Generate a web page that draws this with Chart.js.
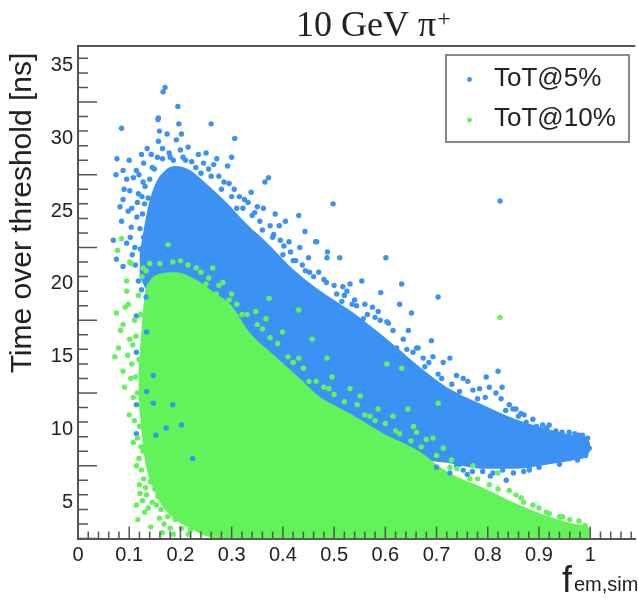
<!DOCTYPE html>
<html>
<head>
<meta charset="utf-8">
<script src="https://cdn.jsdelivr.net/npm/chart.js@4.4.1/dist/chart.umd.min.js"></script>
<style>
  body { margin: 0; background: #fff; }
  #wrap { width: 638px; height: 598px; }
</style>
</head>
<body>
<div id="wrap"><canvas id="tot-chart"></canvas></div>
<script>
// Series
const seriesNames = ['ToT@5%', 'ToT@10%'];
const seriesColors = ['#3b92f4', '#62f25a'];

// Dense core of each cloud (top / bottom edge)
const blueBandX = [0.12, 0.135, 0.15, 0.17, 0.19, 0.22, 0.25, 0.29, 0.33, 0.37, 0.42, 0.47, 0.53, 0.60, 0.66, 0.72, 0.79, 0.855, 0.92, 0.97, 0.995, 1.0];
const blueBandTop = [22.0, 25.0, 26.8, 27.8, 28.1, 27.8, 26.9, 25.6, 24.1, 22.8, 21.0, 19.6, 18.2, 16.3, 14.5, 12.9, 11.7, 10.7, 10.0, 9.6, 9.4, 9.0];
const blueBandBottom = [20.5, 19.5, 19.0, 19.0, 19.0, 18.5, 18.0, 17.0, 15.5, 14.0, 12.5, 11.3, 10.0, 8.8, 8.0, 7.7, 7.3, 7.3, 7.6, 7.9, 8.2, 8.6];

const greenBandX = [0.118, 0.13, 0.14, 0.16, 0.19, 0.23, 0.27, 0.30, 0.334, 0.383, 0.43, 0.47, 0.53, 0.597, 0.661, 0.725, 0.79, 0.855, 0.92, 0.97, 0.995, 1.0];
const greenBandTop = [14.0, 19.2, 20.2, 20.7, 20.8, 20.3, 19.3, 18.5, 16.7, 15.1, 13.6, 12.3, 11.1, 9.7, 8.6, 7.0, 6.0, 4.9, 4.0, 3.5, 3.3, 3.1];
const greenBandBottom = [12.0, 8.0, 6.6, 5.0, 3.8, 3.0, 2.5, 2.5, 2.5, 2.5, 2.5, 2.5, 2.5, 2.5, 2.5, 2.5, 2.5, 2.5, 2.5, 2.5, 2.5, 2.5];

// Scattered events outside the dense core [f_em, ToT]
const bluePoints = [
  [0.085, 30.7], [0.157, 31.4], [0.197, 31.0], [0.26, 31.0], [0.159, 30.5], [0.174, 30.3], [0.202, 30.3],
  [0.306, 30.0], [0.076, 28.6], [0.1, 28.5], [0.074, 27.5], [0.088, 27.8], [0.124, 28.9], [0.135, 29.3],
  [0.157, 29.8], [0.192, 29.9], [0.25, 29.0], [0.271, 28.6], [0.30, 28.7], [0.292, 28.1], [0.372, 27.3],
  [0.365, 27.0], [0.338, 26.3], [0.325, 25.8], [0.35, 25.3], [0.385, 24.8], [0.431, 24.7], [0.405, 24.3],
  [0.393, 24.0], [0.443, 23.6], [0.412, 22.9], [0.433, 22.5], [0.387, 21.9], [0.464, 22.9], [0.444, 20.9],
  [0.069, 23.0], [0.075, 21.7], [0.088, 21.2], [0.085, 24.3], [0.088, 25.8], [0.098, 25.0], [0.104, 23.9],
  [0.111, 22.5], [0.101, 26.4], [0.095, 27.2], [0.114, 27.8], [0.127, 27.0], [0.17, 33.5], [0.166, 33.2],
  [0.195, 32.2], [0.156, 31.3],
  [0.09, 26.5], [0.105, 25.2], [0.115, 24.6], [0.118, 26.2], [0.108, 27.3], [0.095, 22.8], [0.082, 25.3],
  [0.112, 21.3], [0.122, 22.4], [0.13, 25.5], [0.125, 26.0], [0.14, 27.2], [0.145, 28.0], [0.165, 28.6],
  [0.18, 28.7], [0.21, 28.5], [0.23, 28.0], [0.24, 27.6], [0.26, 27.4], [0.28, 26.5], [0.3, 26.0],
  [0.31, 25.2], [0.34, 24.7], [0.36, 23.7], [0.38, 23.2], [0.4, 22.0], [0.42, 21.6], [0.45, 21.8],
  [0.46, 20.5], [0.48, 20.3], [0.5, 19.9], [0.52, 19.2], [0.54, 18.9], [0.56, 18.6], [0.58, 17.7],
  [0.118, 20.2], [0.124, 19.6], [0.128, 23.2], [0.132, 21.0], [0.121, 23.8], [0.116, 25.6], [0.126, 24.8],
  [0.131, 26.7], [0.137, 25.9], [0.133, 19.1], [0.106, 22.0], [0.102, 23.2], [0.119, 27.5], [0.128, 28.3],
  [0.143, 28.9], [0.149, 27.9], [0.155, 28.7],
  [0.165, 29.3], [0.178, 29.0], [0.186, 28.5], [0.2, 29.2], [0.205, 28.7], [0.215, 29.4], [0.222, 28.4],
  [0.235, 28.9], [0.245, 28.3], [0.255, 27.9], [0.265, 28.2], [0.275, 27.4], [0.285, 27.0], [0.295, 26.9],
  [0.305, 26.5], [0.315, 26.0], [0.322, 25.2], [0.332, 25.6], [0.345, 24.9], [0.355, 24.3], [0.362, 25.2],
  [0.375, 24.0], [0.382, 23.4], [0.395, 23.0], [0.402, 22.6], [0.415, 22.2], [0.425, 21.6], [0.438, 21.3],
  [0.452, 20.8], [0.47, 20.8], [0.485, 20.1], [0.505, 19.3], [0.515, 18.8], [0.525, 19.5], [0.535, 18.6],
  [0.565, 17.9], [0.575, 18.4], [0.615, 16.8], [0.635, 16.2], [0.642, 15.5], [0.685, 14.6], [0.71, 13.5],
  [0.73, 13.1], [0.745, 12.6], [0.78, 12.1], [0.795, 12.2], [0.835, 11.3], [0.86, 10.9], [0.875, 10.5],
  [0.895, 10.2], [0.915, 10.1], [0.945, 9.8], [0.97, 9.7],
  [0.498, 25.5], [0.824, 25.7], [0.486, 21.8], [0.511, 21.8], [0.601, 21.8], [0.466, 22.9], [0.487, 22.2],
  [0.554, 20.2], [0.531, 20.0], [0.517, 19.8], [0.632, 20.0], [0.591, 19.4], [0.703, 19.1], [0.628, 18.6],
  [0.586, 18.1], [0.651, 18.0], [0.603, 17.4], [0.645, 16.8], [0.69, 16.1], [0.726, 14.9], [0.713, 14.6],
  [0.661, 15.6], [0.674, 14.9], [0.82, 14.0], [0.797, 13.6], [0.828, 12.9], [0.784, 12.8], [0.752, 13.5],
  [0.855, 11.4], [0.871, 11.0], [0.842, 11.7], [0.92, 10.3], [0.978, 9.6], [0.836, 6.5], [0.881, 7.2],
  [0.726, 7.0], [0.70, 7.4],
  [0.544, 18.5], [0.557, 17.6], [0.590, 17.5], [0.606, 17.3], [0.596, 16.0], [0.622, 15.6], [0.654, 15.3],
  [0.664, 15.6], [0.693, 15.0], [0.677, 14.3], [0.703, 13.8], [0.739, 13.7], [0.761, 13.3], [0.771, 12.7],
  [0.803, 12.9], [0.816, 12.5], [0.826, 12.1], [0.849, 11.4], [0.865, 11.1], [0.888, 10.7], [0.907, 10.3],
  [0.933, 9.9], [0.959, 9.8], [0.985, 9.6], [0.995, 9.4], [0.998, 8.7], [0.991, 8.2], [0.959, 8.0],
  [0.92, 7.8], [0.881, 7.4], [0.829, 7.2], [0.790, 7.1], [0.752, 7.2], [0.739, 7.5], [0.722, 8.2],
  [0.745, 7.6], [0.77, 7.1], [0.81, 7.0], [0.85, 7.0], [0.87, 7.1], [0.9, 7.4], [0.94, 7.6],
  [0.975, 7.9], [0.805, 6.8], [0.76, 6.9],
  [0.114, 17.8], [0.134, 16.7], [0.114, 15.3], [0.147, 13.7], [0.147, 11.8], [0.114, 11.7], [0.114, 9.7],
  [0.172, 10.1], [0.202, 10.3], [0.224, 8.0], [0.152, 9.6], [0.185, 11.7], [0.134, 12.6]
];

const greenPoints = [
  [0.085, 23.1], [0.077, 22.3], [0.176, 22.7], [0.104, 21.4], [0.095, 20.2], [0.127, 21.1], [0.14, 21.4],
  [0.263, 21.1], [0.231, 21.1], [0.095, 19.5], [0.101, 21.5], [0.25, 20.0], [0.295, 18.9], [0.373, 19.0],
  [0.431, 18.2], [0.27, 19.3], [0.283, 20.1],
  [0.075, 18.0], [0.088, 17.2], [0.072, 15.0], [0.079, 15.6], [0.088, 14.0], [0.091, 12.9], [0.101, 16.2],
  [0.108, 9.1], [0.114, 7.5], [0.114, 4.8], [0.117, 3.8], [0.134, 5.5], [0.153, 4.8], [0.159, 3.9],
  [0.185, 4.3], [0.202, 3.2], [0.231, 3.4], [0.25, 3.0], [0.172, 6.2], [0.147, 7.1], [0.127, 8.5],
  [0.211, 5.3], [0.27, 3.9], [0.289, 3.2], [0.315, 4.3],
  [0.098, 18.6], [0.105, 14.5], [0.1, 11.0], [0.108, 12.2], [0.11, 17.5], [0.12, 6.2], [0.13, 4.3],
  [0.142, 3.3], [0.165, 2.9], [0.19, 3.8], [0.175, 5.0], [0.215, 2.8],
  [0.118, 19.2], [0.122, 17.9], [0.113, 16.4], [0.107, 15.8], [0.119, 14.8], [0.112, 13.6], [0.103, 13.5],
  [0.116, 12.5], [0.11, 10.6], [0.12, 10.2], [0.116, 9.4], [0.123, 8.8], [0.119, 8.0], [0.124, 7.2],
  [0.128, 6.6], [0.121, 5.6], [0.126, 5.1], [0.132, 6.0], [0.137, 4.6], [0.141, 6.4], [0.145, 5.0],
  [0.15, 5.9], [0.156, 5.4], [0.162, 4.5], [0.168, 3.5], [0.175, 4.0], [0.18, 3.2], [0.186, 2.8],
  [0.195, 4.6], [0.2, 4.0], [0.206, 3.7], [0.21, 4.4], [0.22, 3.1], [0.225, 4.0], [0.24, 3.9],
  [0.245, 2.9], [0.255, 3.5], [0.26, 2.8], [0.28, 3.6], [0.29, 2.8], [0.3, 3.3], [0.083, 16.8],
  [0.092, 18.4], [0.097, 15.1], [0.125, 20.5], [0.133, 20.9],
  [0.16, 21.4], [0.185, 21.5], [0.2, 21.6], [0.215, 21.3], [0.24, 20.8], [0.255, 20.4], [0.275, 19.9],
  [0.3, 19.3], [0.31, 18.6], [0.33, 17.9], [0.36, 16.9], [0.375, 16.3], [0.42, 14.6], [0.465, 13.3],
  [0.49, 12.8], [0.545, 11.7], [0.57, 10.9], [0.6, 10.4], [0.62, 9.9], [0.65, 9.2], [0.67, 8.8],
  [0.7, 8.2], [0.74, 7.3], [0.78, 6.6], [0.82, 5.9], [0.87, 5.0], [0.9, 4.6], [0.94, 4.0],
  [0.96, 3.8], [0.99, 3.4],
  [0.824, 17.7], [0.603, 14.5], [0.632, 14.2], [0.496, 13.6], [0.486, 14.9], [0.531, 12.8], [0.551, 12.3],
  [0.586, 11.4], [0.615, 10.9], [0.644, 11.4], [0.655, 10.2], [0.628, 9.7], [0.68, 9.3], [0.703, 11.8],
  [0.729, 7.9], [0.82, 7.0], [0.842, 5.8], [0.865, 5.3], [0.92, 4.2], [0.367, 17.6], [0.399, 16.7],
  [0.457, 16.2], [0.431, 14.9], [0.451, 13.3], [0.347, 18.1],
  [0.765, 6.6], [0.803, 6.2], [0.855, 5.5], [0.888, 4.8], [0.914, 4.3], [0.946, 4.0], [0.978, 3.7],
  [0.771, 7.5], [0.713, 8.7], [0.693, 9.4], [0.661, 9.8], [0.726, 7.4],
  [0.32, 17.9], [0.35, 17.2], [0.39, 15.9], [0.41, 15.0], [0.44, 14.2], [0.48, 12.9], [0.5, 12.4],
  [0.52, 11.9], [0.56, 11.0], [0.58, 10.6]
];

// Axis ranges and labelled ticks
const xMin = 0, xMax = 1.088;
const yMin = 2.5, yMax = 36.35;
const xTickStep = 0.1, yTickStep = 5;

const toXY = (xs, ys) => xs.map((x, i) => ({ x: x, y: ys[i] }));
const toPts = pts => pts.map(p => ({ x: p[0], y: p[1] }));

function bandDatasets(xs, top, bottom, color, order) {
  const common = {
    type: 'line',
    pointRadius: 0,
    borderWidth: 0,
    borderColor: 'rgba(0,0,0,0)',
    cubicInterpolationMode: 'monotone'
  };
  return [
    Object.assign({}, common, { data: toXY(xs, top), backgroundColor: color, fill: '+1', order: order }),
    Object.assign({}, common, { data: toXY(xs, bottom), fill: false, order: order + 1 })
  ];
}

function pointDataset(label, pts, color, order) {
  return {
    type: 'scatter',
    label: label,
    data: toPts(pts),
    backgroundColor: color,
    pointRadius: 2.7,
    pointBorderWidth: 0,
    pointHoverRadius: 2.7,
    order: order
  };
}

// ROOT-style frame: inside ticks, titles, legend box
const rootFrame = {
  id: 'rootFrame',
  afterDraw(chart) {
    const ctx = chart.ctx;
    const area = chart.chartArea;
    const xs = chart.scales.x, ys = chart.scales.y;
    ctx.save();
    ctx.strokeStyle = '#555';
    ctx.lineWidth = 2;
    ctx.beginPath();
    ctx.moveTo(area.left, area.top);
    ctx.lineTo(area.right, area.top);
    ctx.stroke();

    ctx.lineWidth = 1.5;
    ctx.beginPath();
    for (let k = 0; yMin + k <= yMax; k++) {
      const py = ys.getPixelForValue(yMin + k);
      const len = k % 5 === 0 ? 19 : 10;
      ctx.moveTo(area.left, py);
      ctx.lineTo(area.left + len, py);
    }
    for (let i = 0; i * 0.02 <= xMax; i++) {
      const px = xs.getPixelForValue(i * 0.02);
      const len = i % 5 === 0 ? 12 : 7;
      ctx.moveTo(px, area.bottom);
      ctx.lineTo(px, area.bottom - len);
    }
    ctx.stroke();

    ctx.fillStyle = '#222';
    // title
    ctx.textBaseline = 'alphabetic';
    ctx.textAlign = 'left';
    ctx.font = '36px "Liberation Serif"';
    const t = '10 GeV \u03c0';
    ctx.fillText(t, 296, 36);
    const tw = ctx.measureText(t).width;
    ctx.font = '24px "Liberation Serif"';
    ctx.fillText('+', 296 + tw + 1, 26);

    // y title
    ctx.save();
    ctx.translate(31, 213);
    ctx.rotate(-Math.PI / 2);
    ctx.textAlign = 'center';
    ctx.font = '30px "Liberation Sans"';
    ctx.fillText('Time over threshold [ns]', 0, 0);
    ctx.restore();

    // x title
    ctx.font = '36px "Liberation Sans"';
    ctx.fillText('f', 562, 591.5);
    ctx.font = '20px "Liberation Sans"';
    ctx.fillText('em,sim', 574, 591);

    // legend
    ctx.fillStyle = '#fff';
    ctx.fillRect(446, 55, 183, 87);
    ctx.strokeStyle = '#888';
    ctx.lineWidth = 2;
    ctx.strokeRect(446, 55, 183, 87);
    ctx.font = '26px "Liberation Sans"';
    seriesNames.forEach((name, i) => {
      const cy = 79.5 + i * 40.5;
      ctx.fillStyle = seriesColors[i];
      ctx.beginPath();
      ctx.arc(469.5, cy, 2.4, 0, Math.PI * 2);
      ctx.fill();
      ctx.fillStyle = '#222';
      ctx.fillText(name, 494, 86 + i * 40);
    });
    ctx.restore();
  }
};

const ctx = document.getElementById('tot-chart').getContext('2d');
new Chart(ctx, {
  type: 'scatter',
  data: {
    datasets: [
      pointDataset(seriesNames[1], greenPoints, seriesColors[1], 0),
      pointDataset(seriesNames[0], bluePoints, seriesColors[0], 1),
      ...bandDatasets(greenBandX, greenBandTop, greenBandBottom, seriesColors[1], 2),
      ...bandDatasets(blueBandX, blueBandTop, blueBandBottom, seriesColors[0], 4)
    ]
  },
  options: {
    responsive: true,
    maintainAspectRatio: false,
    animation: false,
    layout: { padding: { top: 46, left: 0, right: 0, bottom: 0 } },
    plugins: {
      legend: { display: false },
      tooltip: { enabled: false },
      title: { display: false }
    },
    scales: {
      x: {
        type: 'linear',
        min: xMin,
        max: xMax,
        grid: { display: false, drawTicks: false },
        border: { display: true, color: '#555', width: 2 },
        ticks: {
          stepSize: xTickStep,
          includeBounds: false,
          autoSkip: false,
          maxRotation: 0,
          padding: 5,
          color: '#222',
          font: { family: 'Liberation Sans', size: 20 },
          callback: v => String(Number(v.toFixed(1)))
        },
        afterFit(s) { s.height = 59.5; }
      },
      y: {
        type: 'linear',
        min: yMin,
        max: yMax,
        grid: { display: false, drawTicks: false },
        border: { display: true, color: '#555', width: 2 },
        ticks: {
          stepSize: yTickStep,
          includeBounds: false,
          padding: 5,
          color: '#222',
          font: { family: 'Liberation Sans', size: 20 },
          callback: v => String(v)
        },
        afterFit(s) { s.width = 78; }
      }
    }
  },
  plugins: [rootFrame]
});
</script>
</body>
</html>
